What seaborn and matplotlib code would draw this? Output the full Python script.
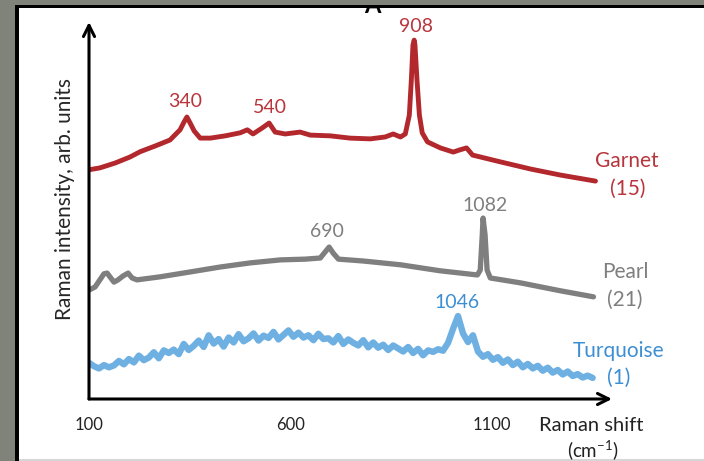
import numpy as np
import matplotlib
matplotlib.use("Agg")
import matplotlib.pyplot as plt
from matplotlib.patches import Rectangle
import seaborn as sns

# -------------------------
# DATA (Raman shift in cm-1, intensity in arb. units, spectra offset)
# -------------------------
garnet_x = [100, 127, 165, 202, 227, 264, 301, 326, 336, 343, 351, 361, 376,
            401, 438, 475, 493, 507, 530, 547, 562, 587, 624, 649, 699, 748,
            798, 835, 855, 873, 885, 895, 900, 904, 907, 909, 914, 920, 927,
            940, 972, 1004, 1021, 1037, 1052, 1121, 1196, 1270, 1357]
garnet_y = [60.8, 61.3, 62.6, 64.2, 65.6, 67.1, 68.7, 71.4, 73.5, 74.8, 73.2,
            71.1, 69.2, 69.2, 69.8, 70.6, 71.4, 70.3, 71.9, 73.2, 70.8, 70.3,
            70.8, 70.0, 69.8, 69.2, 69.0, 69.5, 70.3, 69.5, 70.3, 75.3, 84.6,
            93.9, 95.2, 93.9, 84.6, 75.3, 70.6, 68.2, 66.6, 65.5, 66.1, 66.6,
            64.7, 62.9, 61.0, 59.4, 57.8]

pearl_x = [100, 115, 127, 137, 145, 152, 162, 172, 184, 197, 207, 219, 276,
           351, 425, 500, 575, 637, 674, 686, 696, 706, 719, 781, 873, 972,
           1064, 1071, 1076, 1078, 1083, 1088, 1096, 1171, 1270, 1352]
pearl_y = [28.9, 29.7, 31.6, 33.2, 33.4, 32.4, 31.0, 31.6, 32.6, 33.4, 32.1,
           31.6, 32.4, 33.7, 35.0, 36.1, 36.9, 37.1, 37.4, 39.0, 40.3, 38.7,
           37.1, 36.6, 35.6, 34.0, 32.9, 34.2, 43.5, 48.0, 43.5, 34.2, 32.1,
           30.8, 28.7, 27.1]

turquoise_y = [9.6, 8.7, 8.1, 9.0, 8.4, 8.9, 10.1, 9.2, 10.6, 9.7, 11.5,
               10.3, 11.0, 12.4, 10.8, 12.9, 12.2, 13.1, 11.9, 14.6, 13.0,
               14.1, 15.5, 13.8, 16.9, 14.7, 15.9, 13.9, 16.3, 15.0, 17.2,
               15.3, 16.1, 17.4, 15.5, 16.8, 16.2, 17.8, 15.8, 17.0, 18.2,
               16.5, 17.6, 16.3, 16.9, 15.6, 17.3, 15.9, 16.1, 15.0, 16.7,
               14.6, 15.8, 14.9, 14.2, 15.6, 13.7, 15.0, 13.6, 14.4, 13.0,
               14.2, 13.4, 12.6, 13.8, 12.2, 13.3, 11.6, 12.9, 12.5, 13.2,
               12.8, 14.9, 18.6, 22.0, 17.4, 15.1, 16.9, 12.6, 11.2, 11.9,
               10.4, 11.1, 9.6, 10.5, 9.0, 9.9, 8.4, 9.3, 8.1, 8.8, 7.5,
               8.3, 7.0, 7.7, 6.5, 7.3, 6.1, 6.6, 5.7, 6.2, 5.6]
turquoise_x = np.linspace(100, 1350, len(turquoise_y))

x_ticks = [100, 600, 1100]
garnet_peaks = ["340", "540", "908"]
pearl_peaks = ["690", "1082"]
turquoise_peaks = ["1046"]

# -------------------------
# STYLE
# -------------------------
sns.set_style("white")
plt.rcParams['font.family'] = ['Lato', 'DejaVu Sans']
plt.rcParams['mathtext.default'] = 'regular'

bg = '#80837a'
red = '#b3282d'
red_txt = '#b8353c'
gray = '#7f7f7f'
blue = '#6fb0e3'
blue_txt = '#3d8fd4'

W, H = 704, 461
fx = lambda px: px / W
fy = lambda py: 1 - py / H

fig = plt.figure(figsize=(7.04, 4.61), dpi=100, facecolor=bg)

# white panel with black frame
fig.patches.append(Rectangle((fx(17), fy(459)), 1, fy(6) - fy(459),
                             transform=fig.transFigure, facecolor='white',
                             edgecolor='none', zorder=0))
fig.patches.append(Rectangle((fx(17), 0), 1, fy(459),
                             transform=fig.transFigure, facecolor='#d6d6d4',
                             edgecolor='none', zorder=0))
fig.text(fx(372), fy(13), "A", fontsize=17, fontweight='bold', ha='center',
         va='baseline', color='black', zorder=0.5)
fig.patches.append(Rectangle((0, fy(5)), 1, 1 - fy(5), transform=fig.transFigure,
                             facecolor=bg, edgecolor='none', zorder=1))
fig.patches.append(Rectangle((fx(15), fy(8.5)), 1, 3.5 / H,
                             transform=fig.transFigure, facecolor='black',
                             edgecolor='none', zorder=2))
fig.patches.append(Rectangle((fx(15), 0), 4 / W, fy(5),
                             transform=fig.transFigure, facecolor='black',
                             edgecolor='none', zorder=2))

ax = fig.add_axes([fx(89), fy(399), (612 - 89) / W, (399 - 22) / H])
ax.set_zorder(3)
ax.patch.set_alpha(0)

sns.lineplot(x=turquoise_x, y=turquoise_y, color=blue, lw=4.6, sort=False, ax=ax)
sns.lineplot(x=pearl_x, y=pearl_y, color=gray, lw=3.8, sort=False, ax=ax)
sns.lineplot(x=garnet_x, y=garnet_y, color=red, lw=3.5, sort=False, ax=ax)

ax.set_xlim(100, 1398)
ax.set_ylim(0, 100)
for s in ax.spines.values():
    s.set_visible(False)

arrow = dict(arrowstyle='->', lw=2.2, color='black', mutation_scale=20,
             shrinkA=0, shrinkB=0)
ax.annotate('', xy=(1398, 0), xytext=(100, 0), arrowprops=arrow,
            annotation_clip=False)
ax.annotate('', xy=(100, 100), xytext=(100, 0), arrowprops=arrow,
            annotation_clip=False)

ax.set_xticks(x_ticks)
ax.set_xticklabels([str(t) for t in x_ticks])
ax.set_yticks([])
ax.tick_params(axis='x', direction='out', length=4, width=2, pad=9,
               labelsize=12, colors='black', labelcolor='#222222')
ax.set_xlabel('')
ax.set_ylabel('')

# peak labels
for lab, (x, y) in zip(garnet_peaks, [(339, 78.8), (550, 77.2), (912, 98.7)]):
    ax.text(x, y, lab, color=red_txt, fontsize=14, ha='center', va='center')
for lab, (x, y) in zip(pearl_peaks, [(691, 44.3), (1084, 51.2)]):
    ax.text(x, y, lab, color=gray, fontsize=14, ha='center', va='center')
for lab, (x, y) in zip(turquoise_peaks, [(1014, 25.5)]):
    ax.text(x, y, lab, color=blue_txt, fontsize=14, ha='center', va='center')

# sample names
ax.text(1436, 63.1, "Garnet", color=red_txt, fontsize=15, ha='center', va='center')
ax.text(1436, 55.7, "(15)", color=red_txt, fontsize=15, ha='center', va='center')
ax.text(1432, 33.7, "Pearl", color=gray, fontsize=15, ha='center', va='center')
ax.text(1429, 26.3, "(21)", color=gray, fontsize=15, ha='center', va='center')
ax.text(1414, 12.7, "Turquoise", color=blue_txt, fontsize=15, ha='center', va='center')
ax.text(1414, 5.6, "(1)", color=blue_txt, fontsize=15, ha='center', va='center')

# axis titles
ax.text(1347, -6.9, "Raman shift", color='#222222', fontsize=14.5,
        ha='center', va='center')
ax.text(1350, -13.6, r"(cm$^{-1}$)", color='#222222', fontsize=13.5,
        ha='center', va='center')
fig.text(fx(65), fy(199), "Raman intensity, arb. units", rotation=90,
         ha='center', va='center', fontsize=15, color='#262626')

fig.savefig("out.png", dpi=100, facecolor=bg)
